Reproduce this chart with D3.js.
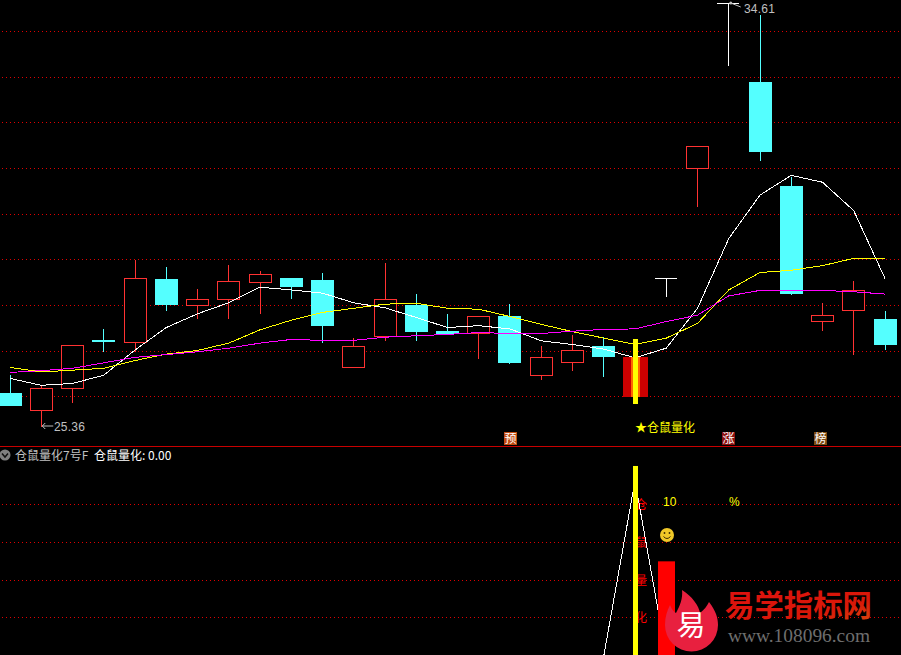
<!DOCTYPE html>
<html>
<head>
<meta charset="utf-8">
<script src="https://cdnjs.cloudflare.com/ajax/libs/d3/7.8.5/d3.min.js"></script>
<style>
  html, body { margin: 0; padding: 0; background: #000; overflow: hidden; }
  svg { display: block; }
  text { font-family: "Noto Sans CJK SC", sans-serif; }
  .num { font-family: "Liberation Sans", sans-serif; }
</style>
</head>
<body>
<div id="chart"></div>
<script>
// K线: 开 高 低 收 (第20根单独画信号柱, 数值读图估算)
const opens  = [26.10,25.72,26.20,27.26,27.21,28.59,28.01,28.15,28.51,28.61,28.57,26.65,27.33,28.02,27.45,27.40,27.78,26.48,26.76,27.13,26.02,28.60,31.00,34.61,32.89,30.62,27.66,27.90,27.72];
const highs  = [26.49,26.28,27.14,27.50,29.01,28.85,28.37,28.89,28.76,28.61,28.72,27.30,28.94,28.26,27.83,27.78,28.04,27.12,27.37,27.32,26.89,28.60,31.47,34.61,34.35,30.82,28.06,28.55,27.89];
const lows   = [25.82,25.36,25.89,27.00,27.00,27.90,27.72,27.72,27.83,28.15,27.20,26.65,27.24,27.24,27.38,26.85,26.74,26.39,26.59,26.44,26.02,28.20,30.17,33.24,31.17,28.25,27.46,26.92,27.05];
const closes = [25.82,26.20,27.14,27.21,28.60,28.03,28.15,28.54,28.69,28.41,27.56,27.12,28.15,27.43,27.38,27.78,26.76,26.88,27.03,26.89,26.89,28.60,31.47,34.61,31.36,28.27,27.80,28.34,27.15];

// 均线
const ma5  = [26.42,26.27,26.31,26.49,27.04,27.53,27.83,28.07,28.41,28.35,28.28,28.07,27.96,27.75,27.53,27.57,27.50,27.24,27.16,27.06,26.87,27.08,27.95,29.47,30.42,30.85,30.70,30.08,28.60];
const ma10 = [26.66,26.56,26.60,26.64,26.81,26.95,27.03,27.19,27.48,27.69,27.86,27.95,28.04,28.06,27.95,27.93,27.77,27.60,27.44,27.30,27.16,27.30,27.62,28.35,28.73,28.78,28.88,29.04,29.04];
const ma20 = [26.55,26.59,26.64,26.76,26.88,26.94,27.00,27.08,27.19,27.27,27.25,27.25,27.32,27.35,27.38,27.42,27.40,27.40,27.45,27.49,27.50,27.66,27.80,28.22,28.34,28.34,28.34,28.31,28.26];

const gridPrices = [33.99,32.99,32.01,31.00,30.00,29.02,28.02,27.01,26.03];
const signalIndex = 20;
const signalRange = [25.87, 27.28];

// 副图
const subLine = [0,0,0,0,0,0,0,0,0,0,0,0,0,0,0,0,0,0,0,0,1,0,0,0,0,0,0,0,0];
const subGrid = [0.865,0.649,0.432,0.221];
const subSignalTop = 1.084;
const subBarIndex = 21;
const subBarValue = 0.54;
const subChars = ["仓","鼠","量","化"];

const badgeAt = [16, 22.97, 25.93];
const badgeLabels = ["预", "涨", "榜"];
const badgeColors = ["#c04a10", "#8c1010", "#7d4a12"];

const width = 901, height = 655;
const bodyW = 23;

const svg = d3.select("#chart").append("svg")
  .attr("width", width).attr("height", height)
  .style("background", "#000");

const x = d3.scaleLinear().domain([0, 28]).range([10, 885]);
const y = d3.scaleLinear().domain([34.61, 25.36]).range([3, 427]);
const ySub = d3.scaleLinear().domain([0, 1]).range([656, 480.7]);
const cx = i => Math.floor(x(i));

const RED = "#ff3232", CYAN = "#54ffff";

// 网格
function drawGrid(scale, ticks) {
  const g = svg.append("g")
    .call(d3.axisRight(scale).tickValues(ticks).tickSize(width).tickFormat(""));
  g.select(".domain").remove();
  g.selectAll("line")
    .attr("stroke", "#e00000")
    .attr("stroke-dasharray", "1 3")
    .attr("stroke-dashoffset", -2)
    .attr("shape-rendering", "crispEdges");
}
drawGrid(y, gridPrices);
drawGrid(ySub, subGrid);

// 分隔线
svg.append("rect").attr("x", 0).attr("y", 446).attr("width", width).attr("height", 1).attr("fill", "#c80000");

// K线
const candles = d3.range(opens.length).filter(i => i !== signalIndex).map(i => ({
  i, o: opens[i], h: highs[i], l: lows[i], c: closes[i]
}));
const isT = d => d.i === 21 || d.i === 23;
const colorOf = d => isT(d) ? "#fff" : (d.c >= d.o ? RED : CYAN);

const candle = svg.append("g").attr("shape-rendering", "crispEdges")
  .selectAll("g").data(candles).enter().append("g");

candle.append("line")
  .attr("x1", d => cx(d.i) + 0.5).attr("x2", d => cx(d.i) + 0.5)
  .attr("y1", d => y(d.h)).attr("y2", d => y(d.l))
  .attr("stroke", colorOf);

candle.filter(d => !isT(d)).append("rect")
  .attr("x", d => cx(d.i) - 11 + (d.c >= d.o ? 0.5 : 0))
  .attr("width", d => d.c >= d.o ? bodyW - 1 : bodyW)
  .attr("y", d => y(Math.max(d.o, d.c)))
  .attr("height", d => Math.abs(y(d.o) - y(d.c)))
  .attr("fill", d => d.c >= d.o ? "#000" : CYAN)
  .attr("stroke", d => d.c >= d.o ? RED : "none");

// 一字T线
candle.filter(isT).append("line")
  .attr("x1", d => cx(d.i) - 11).attr("x2", d => cx(d.i) + 11)
  .attr("y1", d => y(d.h)).attr("y2", d => y(d.h))
  .attr("stroke", "#fff");

// 均线
const lineGen = d3.line().x((d, i) => x(i)).y(d => y(d));
[[ma5, "#ffffff"], [ma10, "#ffff00"], [ma20, "#ff00ff"]].forEach(([s, c]) => {
  svg.append("path").datum(s).attr("d", lineGen)
    .attr("fill", "none").attr("stroke", c).attr("stroke-width", 1)
    .attr("shape-rendering", "crispEdges");
});

// 信号柱
const sx = cx(signalIndex);
const sig = svg.append("g").attr("shape-rendering", "crispEdges");
sig.append("rect").attr("x", sx - 12).attr("width", 25)
  .attr("y", y(closes[signalIndex])).attr("height", y(opens[signalIndex]) - y(closes[signalIndex])).attr("fill", "#cc0000");
sig.append("rect").attr("x", sx - 4).attr("width", 9)
  .attr("y", y(closes[signalIndex])).attr("height", y(opens[signalIndex]) - y(closes[signalIndex])).attr("fill", "#ff6600");
sig.append("rect").attr("x", sx - 2).attr("width", 5)
  .attr("y", y(signalRange[1])).attr("height", y(signalRange[0]) - y(signalRange[1])).attr("fill", "#ffff00");

// 最高最低标注
svg.append("path").attr("d", `M${x(23) + 2},${y(34.61)}L${x(23) + 12},${y(34.61) + 4}`).attr("stroke", "#c0c0c0").attr("fill", "none");
svg.append("circle").attr("cx", x(23) + 2).attr("cy", y(34.61)).attr("r", 1.5).attr("fill", "#c0c0c0");
svg.append("text").attr("class", "num").attr("x", 744).attr("y", 13).attr("letter-spacing", 0.2)
  .attr("font-size", 12).attr("fill", "#c0c0c0").text("34.61");

svg.append("path").attr("d", `M${x(1) + 1},${y(25.36) - 1}H${x(1) + 12}`).attr("stroke", "#c0c0c0").attr("fill", "none");
svg.append("path").attr("d", `M${x(1) + 4},${y(25.36) - 4}L${x(1) + 1},${y(25.36) - 1}L${x(1) + 4},${y(25.36) + 2}`).attr("stroke", "#c0c0c0").attr("fill", "none");
svg.append("text").attr("class", "num").attr("x", 54).attr("y", 431).attr("letter-spacing", 0.2)
  .attr("font-size", 12).attr("fill", "#c0c0c0").text("25.36");

// 买入提示
svg.append("text").attr("x", 635).attr("y", 432).attr("font-size", 12).attr("fill", "#ffff00").text("★仓鼠量化");

// 角标
const badge = svg.append("g").selectAll("g").data(badgeAt).enter().append("g");
badge.append("rect")
  .attr("x", d => Math.round(x(d)) - 6)
  .attr("y", 432).attr("width", 13).attr("height", 13)
  .attr("fill", (d, i) => badgeColors[i]);
badge.append("text")
  .attr("x", d => Math.round(x(d)) + 0.5).attr("y", 443)
  .attr("text-anchor", "middle").attr("font-size", 12).attr("fill", "#fff")
  .text((d, i) => badgeLabels[i]);

// 副图标题
svg.append("circle").attr("cx", 5).attr("cy", 455).attr("r", 5.5).attr("fill", "#808080");
svg.append("path").attr("d", "M2,453.5L5,457L8,453.5").attr("stroke", "#111").attr("stroke-width", 1.5).attr("fill", "none");
svg.append("text").attr("x", 15).attr("y", 460).attr("font-size", 12).attr("fill", "#c0c0c0").text("仓鼠量化7号F");
svg.append("text").attr("x", 94).attr("y", 460).attr("font-size", 12).attr("fill", "#fff").text("仓鼠量化: 0.00");

// 副图
svg.append("text").selectAll("tspan").data(subChars).enter().append("tspan")
  .attr("x", 641).attr("y", (d, i) => [509, 547, 585, 622][i])
  .attr("text-anchor", "middle").attr("font-size", 12).attr("fill", "#ff0000")
  .text(d => d);

const lineSub = d3.line().x((d, i) => x(i)).y(d => ySub(d));
svg.append("path").datum(subLine).attr("d", lineSub)
  .attr("fill", "none").attr("stroke", "#fff").attr("stroke-width", 1)
  .attr("shape-rendering", "crispEdges");

svg.append("rect").attr("x", sx - 2).attr("width", 5)
  .attr("y", ySub(subSignalTop)).attr("height", height - ySub(subSignalTop)).attr("fill", "#ffff00");

svg.append("rect").attr("x", cx(subBarIndex) - 8).attr("width", 17)
  .attr("y", ySub(subBarValue)).attr("height", height - ySub(subBarValue)).attr("fill", "#ff0000");

svg.append("text").attr("class", "num").attr("x", 663).attr("y", 506).attr("font-size", 12).attr("fill", "#ffff00").text("10");
svg.append("text").attr("class", "num").attr("x", 729).attr("y", 506).attr("font-size", 12).attr("fill", "#ffff00").text("%");

// 笑脸
const face = svg.append("g").attr("transform", "translate(667,535)");
face.append("circle").attr("r", 7).attr("fill", "#f0c828");
face.append("circle").attr("cx", -2.5).attr("cy", -2).attr("r", 0.9).attr("fill", "#3a2a00");
face.append("circle").attr("cx", 2.5).attr("cy", -2).attr("r", 0.9).attr("fill", "#3a2a00");
face.append("path").attr("d", "M-3.5,1.5Q0,5.5 3.5,1.5").attr("stroke", "#3a2a00").attr("fill", "none");

// 水印
const defs = svg.append("defs");
const grad = defs.append("linearGradient").attr("id", "wm").attr("x1", 0).attr("y1", 0).attr("x2", 1).attr("y2", 1);
grad.append("stop").attr("offset", "0%").attr("stop-color", "#e01010");
grad.append("stop").attr("offset", "70%").attr("stop-color", "#d81808");
grad.append("stop").attr("offset", "100%").attr("stop-color", "#d84a10");

svg.append("path")
  .attr("d", "M682,590C692,596 699,606 700,613C704,610 707,606 709,602C716,611 718,618 718,625A26.5,26.5 0 0 1 665,625C665,617 667,611 670,605C672,610 674,612 676,613C680,606 683,598 682,590Z")
  .attr("fill", "#e8203f");
svg.append("text").attr("x", 691).attr("y", 636).attr("text-anchor", "middle")
  .attr("font-size", 29).attr("fill", "#fff").text("易");
svg.append("text").attr("x", 725).attr("y", 616).attr("font-size", 29.4).attr("font-weight", 700)
  .attr("fill", "url(#wm)").text("易学指标网");
svg.append("text").attr("x", 728).attr("y", 642).attr("font-size", 19.4)
  .style("font-family", "'Liberation Serif', serif").attr("fill", "#6e6e6e").text("www.108096.com");
</script>
</body>
</html>
